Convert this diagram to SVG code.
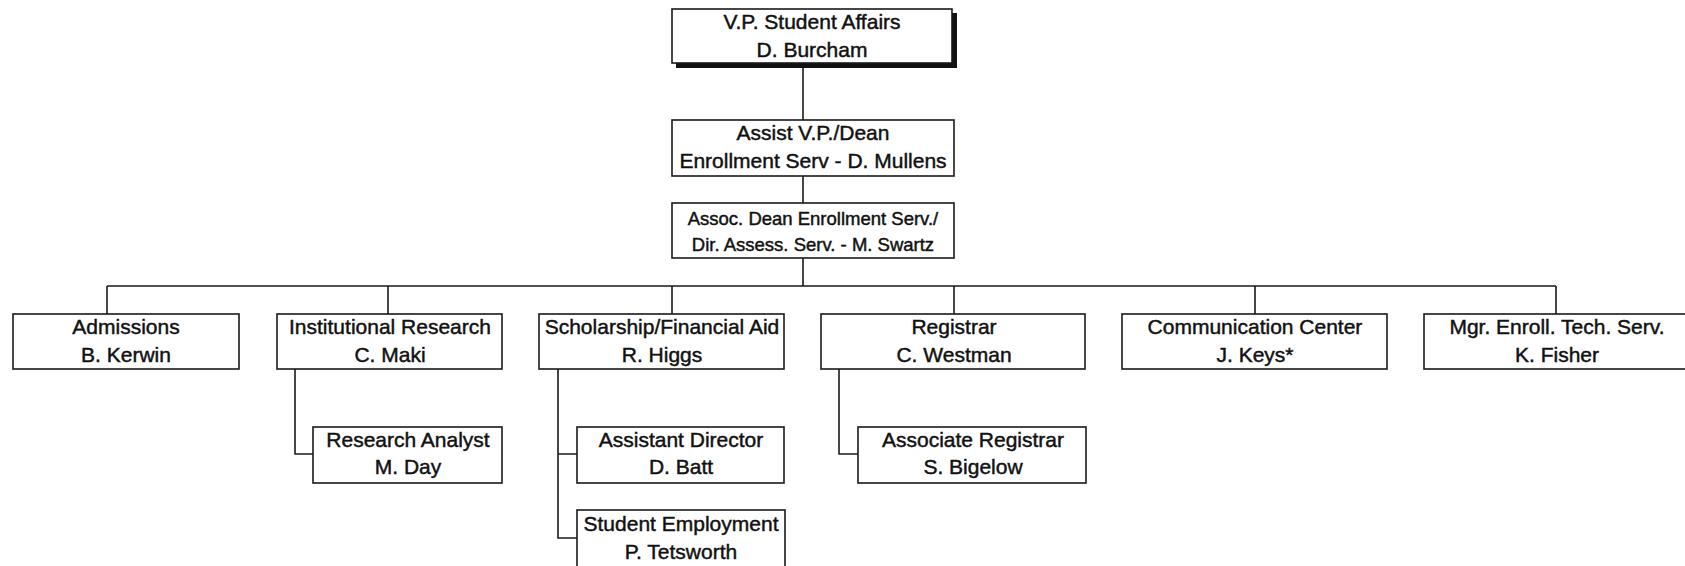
<svg xmlns="http://www.w3.org/2000/svg" width="1685" height="566" viewBox="0 0 1685 566">
<style>
.box{fill:#fff;stroke:#1a1a1a;stroke-width:1.6}
.shadow{fill:#111}
.t{font-family:"Liberation Sans",Arial,Helvetica,sans-serif;font-size:21px;fill:#111;stroke:#111;stroke-width:0.45;text-anchor:middle}
.s{font-size:18.5px}
.conn{fill:none;stroke:#1a1a1a;stroke-width:1.6}
</style>
<rect width="1685" height="566" fill="#fff"/>
<g id="connectors">
<path class="conn" d="M803,68 V120 M803,176 V203 M803,258 V286 M107,286 H1556"/>
<path class="conn" d="M107,286 V314 M388,286 V314 M672,286 V314 M954,286 V314 M1255,286 V314 M1556,286 V314"/>
<path class="conn" d="M295,369 V454 H313"/>
<path class="conn" d="M558,369 V538 H577 M558,454 H577"/>
<path class="conn" d="M839,369 V454 H858"/>
</g>
<g id="vp">
<rect class="shadow" x="676" y="13" width="281" height="55"/>
<rect class="box" x="672" y="9" width="280" height="54"/>
<text class="t" x="812" y="29">V.P. Student Affairs</text>
<text class="t" x="812" y="57">D. Burcham</text>
</g>
<g id="avp">
<rect class="box" x="672" y="120" width="282" height="56"/>
<text class="t" x="813" y="140">Assist V.P./Dean</text>
<text class="t" x="813" y="168">Enrollment Serv - D. Mullens</text>
</g>
<g id="assoc">
<rect class="box" x="672" y="203" width="282" height="55"/>
<text class="t s" x="813" y="225">Assoc. Dean Enrollment Serv./</text>
<text class="t s" x="813" y="251">Dir. Assess. Serv. - M. Swartz</text>
</g>
<g id="admissions">
<rect class="box" x="13" y="314" width="226" height="55"/>
<text class="t" x="126" y="334">Admissions</text>
<text class="t" x="126" y="361.5">B. Kerwin</text>
</g>
<g id="inst-research">
<rect class="box" x="277" y="314" width="225" height="55"/>
<text class="t" x="390" y="334">Institutional Research</text>
<text class="t" x="390" y="361.5">C. Maki</text>
</g>
<g id="scholarship">
<rect class="box" x="539" y="314" width="245" height="55"/>
<text class="t" x="662" y="334">Scholarship/Financial Aid</text>
<text class="t" x="662" y="361.5">R. Higgs</text>
</g>
<g id="registrar">
<rect class="box" x="821" y="314" width="264" height="55"/>
<text class="t" x="954" y="334">Registrar</text>
<text class="t" x="954" y="361.5">C. Westman</text>
</g>
<g id="comm-center">
<rect class="box" x="1122" y="314" width="265" height="55"/>
<text class="t" x="1255" y="334">Communication Center</text>
<text class="t" x="1255" y="361.5">J. Keys*</text>
</g>
<g id="mgr-tech">
<rect class="box" x="1424" y="314" width="266" height="55"/>
<text class="t" x="1557" y="334">Mgr. Enroll. Tech. Serv.</text>
<text class="t" x="1557" y="361.5">K. Fisher</text>
</g>
<g id="research-analyst">
<rect class="box" x="313" y="427" width="189" height="56"/>
<text class="t" x="408" y="446.5">Research Analyst</text>
<text class="t" x="408" y="474">M. Day</text>
</g>
<g id="asst-director">
<rect class="box" x="577" y="427" width="207" height="56"/>
<text class="t" x="681" y="446.5">Assistant Director</text>
<text class="t" x="681" y="474">D. Batt</text>
</g>
<g id="student-employment">
<rect class="box" x="577" y="510" width="208" height="62"/>
<text class="t" x="681" y="531">Student Employment</text>
<text class="t" x="681" y="558.5">P. Tetsworth</text>
</g>
<g id="assoc-registrar">
<rect class="box" x="858" y="427" width="228" height="56"/>
<text class="t" x="973" y="446.5">Associate Registrar</text>
<text class="t" x="973" y="474">S. Bigelow</text>
</g>
</svg>
